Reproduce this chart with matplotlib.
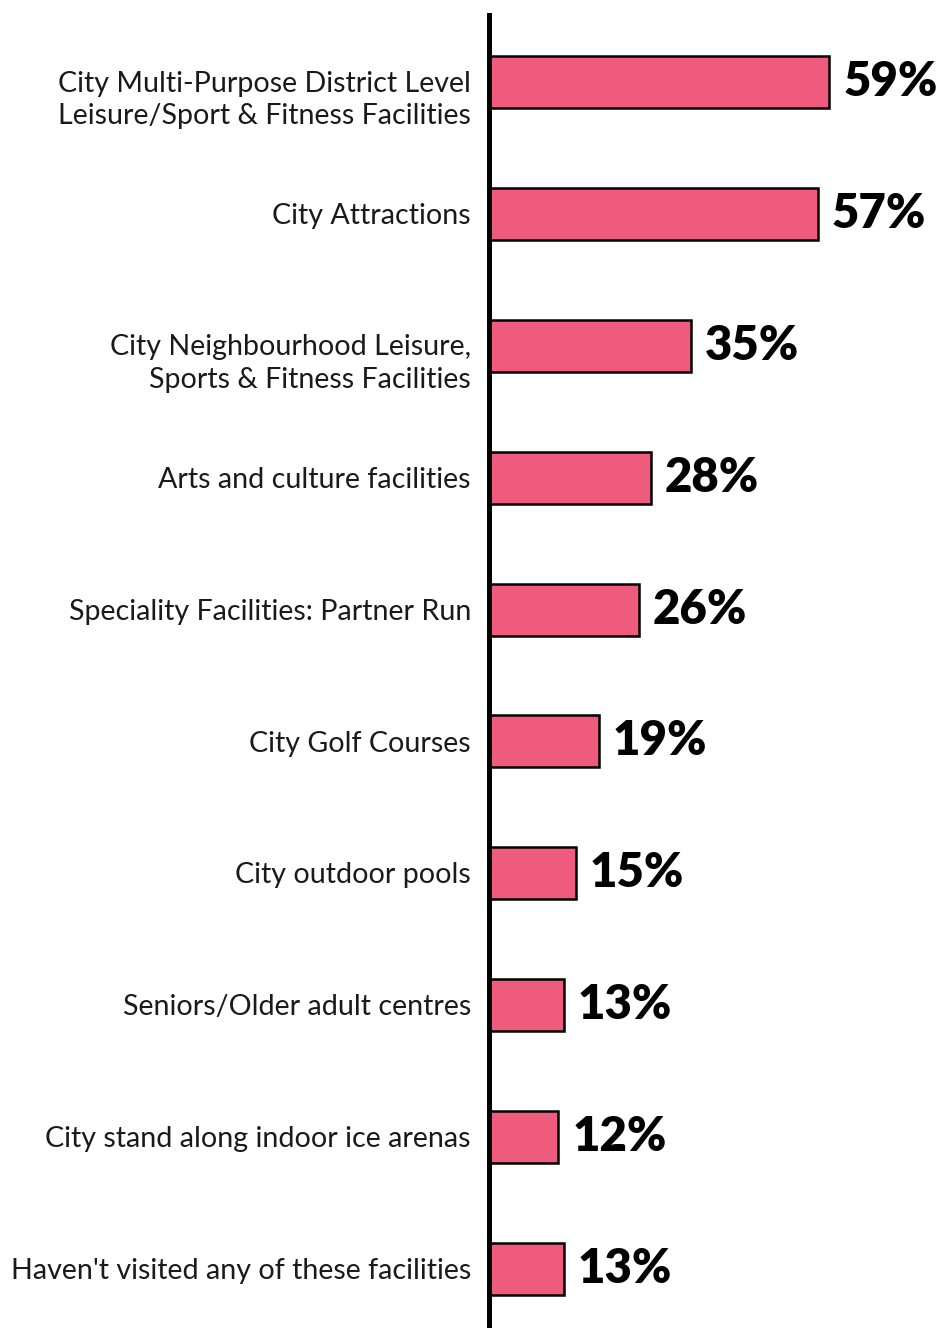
import matplotlib.pyplot as plt

categories = [
    "City Multi-Purpose District Level\nLeisure/Sport & Fitness Facilities",
    "City Attractions",
    "City Neighbourhood Leisure,\nSports & Fitness Facilities",
    "Arts and culture facilities",
    "Speciality Facilities: Partner Run",
    "City Golf Courses",
    "City outdoor pools",
    "Seniors/Older adult centres",
    "City stand along indoor ice arenas",
    "Haven't visited any of these facilities",
]
values = [59, 57, 35, 28, 26, 19, 15, 13, 12, 13]
value_labels = ["59%", "57%", "35%", "28%", "26%", "19%", "15%", "13%", "12%", "13%"]

bar_color = "#EF5B7C"

fig = plt.figure(figsize=(9.37, 13.28), dpi=100)
ax = fig.add_axes([489 / 937, 0, 448 / 937, 1313 / 1328])

ypos = list(range(len(values)))
ax.barh(ypos, values, height=0.394, color=bar_color, edgecolor="black", linewidth=1.8)

for y, v, lab in zip(ypos, values, value_labels):
    ax.annotate(lab, (v, y), xytext=(10, 0), textcoords="offset points",
                ha="left", va="center", fontsize=34, fontweight="heavy",
                family="Lato", color="black")

# category labels: first line sits on the bar centre
for y, cat in zip(ypos, categories):
    nl = cat.count("\n")
    ax.annotate(cat, (0, y), xytext=(-13, -1.5 - 11.5 * nl), textcoords="offset points",
                ha="right", va="center", fontsize=20.6, family="Lato",
                color="#1a1a1a", linespacing=1.32, annotation_clip=False)

ax.set_xlim(0, 448 / 5.77)
ax.set_ylim(9.447, -0.508)

ax.set_yticks([])
ax.set_xticks([])

for s in ["top", "right", "bottom"]:
    ax.spines[s].set_visible(False)
ax.spines["left"].set_linewidth(3.6)
ax.spines["left"].set_color("black")

fig.savefig("out.png", dpi=100)
